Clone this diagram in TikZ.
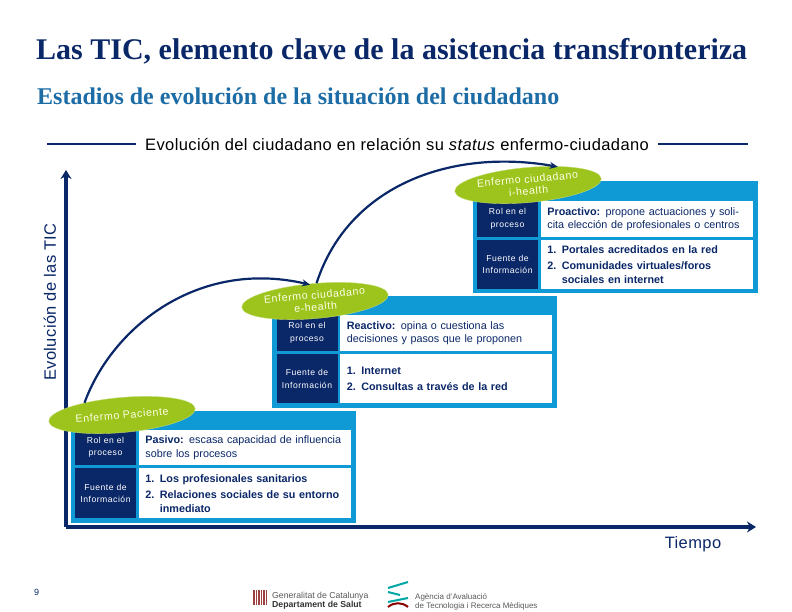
\documentclass[tikz,border=0pt]{standalone}
\usepackage{fontspec}
\setmainfont{Liberation Sans}
\newfontfamily\serifhead{Liberation Serif}
\newfontfamily\ovalfont[LetterSpace=6]{Liberation Sans}
\newfontfamily\rolfont[LetterSpace=6]{Liberation Sans}
\newfontfamily\labelfont[LetterSpace=2.4]{Liberation Sans}
\usetikzlibrary{arrows.meta,shapes.geometric,positioning,calc}
\definecolor{navyblue}{HTML}{0A2768}
\definecolor{panelblue}{HTML}{0F9AD6}
\definecolor{leafgreen}{HTML}{9CC41C}
\definecolor{subtitleblue}{HTML}{1C6CA6}

\begin{document}
\begin{tikzpicture}[
    x=1pt, y=-1pt,
    >=Stealth,
    panel/.style={
        fill=panelblue,
        minimum width=285pt,
        minimum height=112pt,
        inner sep=0pt
    },
    rolbox/.style={
        fill=navyblue,
        text=white,
        align=center,
        minimum width=61pt,
        inner sep=0pt,
        font=\fontsize{8.6}{12.5}\selectfont\rolfont
    },
    textbox/.style={
        fill=white,
        text=navyblue,
        align=left,
        anchor=west,
        text width=199pt,
        minimum width=212pt,
        inner sep=0pt,
        font=\fontsize{10.8}{13.5}\selectfont
    },
    oval/.style={
        ellipse,
        fill=leafgreen,
        draw=leafgreen!60!white,
        thin,
        rotate=5,
        minimum width=147pt,
        minimum height=35pt,
        inner sep=0pt,
        align=center,
        text=yellow!10!white,
        font=\fontsize{10.6}{12}\selectfont\ovalfont
    },
    axis/.style={line width=4pt, navyblue, arrows={-Stealth[length=9pt,width=11pt]}},
    evolarc/.style={line width=2.2pt, navyblue, shorten >=-3pt, arrows={-Stealth[length=8pt,width=7pt]}},
    rulebar/.style={line width=1.4pt, navyblue},
    axislabel/.style={text=navyblue, font=\fontsize{16.5}{19}\selectfont\labelfont}
]
\useasboundingbox (0,0) rectangle (792,612);

% heading
\node[anchor=base west, inner sep=0pt, text=navyblue, font=\fontsize{30}{34}\selectfont\serifhead\bfseries] (title) at (36,60) {Las TIC, elemento clave de la asistencia transfronteriza};
\node[anchor=base west, inner sep=0pt, text=subtitleblue, font=\fontsize{24}{27}\selectfont\serifhead\bfseries] (subtitle) at (37,105) {Estadios de evolución de la situación del ciudadano};
\node[inner sep=0pt, font=\fontsize{16.5}{19}\selectfont\labelfont] (header) at (397,145) {Evolución del ciudadano en relación su \textit{status} enfermo-ciudadano};
\coordinate (ruleL) at (47,144);
\coordinate (ruleR) at (748,144);
\draw[rulebar] (ruleL) -- (136,144);
\draw[rulebar] (658,144) -- (ruleR);

% axes
\coordinate (origin) at (66,527);
\coordinate (axistop) at (66,170);
\coordinate (axisend) at (756,527);
\draw[axis] (origin) -- (axistop);
\draw[axis] (origin) -- (axisend);
\node[axislabel, rotate=90] (ylabel) at (50,302) {Evolución de las TIC};
\node[axislabel] (xlabel) at (693,544) {Tiempo};

% stage 1
\node[panel] (panelA) at (213,467) {};
\node[rolbox, minimum height=35pt] (rolA) at (105.5,447.5) {Rol en el\\proceso};
\node[rolbox, minimum height=50pt, below=3pt of rolA] (fuenteA) {Fuente de\\Información};
\node[textbox, minimum height=35pt, right=2.5pt of rolA] (descA) {\textbf{Pasivo:} escasa capacidad de influencia\\sobre los procesos};
\node[textbox, minimum height=50pt, right=2.5pt of fuenteA] (listA) {\textbf{1. Los profesionales sanitarios\\[3pt]2. Relaciones sociales de su entorno\\\phantom{2. }inmediato}};
\node[oval] (paciente) at (122,415) {Enfermo Paciente};

% stage 2
\node[panel] (panelB) at (414.5,352) {};
\node[rolbox, minimum height=36pt] (rolB) at (307,333) {Rol en el\\proceso};
\node[rolbox, minimum height=49pt, below=3pt of rolB] (fuenteB) {Fuente de\\Información};
\node[textbox, minimum height=36pt, right=2.5pt of rolB] (descB) {\textbf{Reactivo:} opina o cuestiona las\\decisiones y pasos que le proponen};
\node[textbox, minimum height=49pt, right=2.5pt of fuenteB] (listB) {\textbf{1. Internet\\[3pt]2. Consultas a través de la red}};
\node[oval] (ehealth) at (315,301) {Enfermo ciudadano\\e-health};

% stage 3
\node[panel] (panelC) at (615,237) {};
\node[rolbox, minimum height=36pt] (rolC) at (507.5,219) {Rol en el\\proceso};
\node[rolbox, minimum height=49pt, below=2.5pt of rolC] (fuenteC) {Fuente de\\Información};
\node[textbox, minimum height=36pt, right=2.5pt of rolC] (descC) {\textbf{Proactivo:} propone actuaciones y soli-\\cita elección de profesionales o centros};
\node[textbox, minimum height=49pt, right=2.5pt of fuenteC] (listC) {\textbf{1. Portales acreditados en la red\\[3pt]2. Comunidades virtuales/foros\\\phantom{2. }sociales en internet}};
\node[oval] (ihealth) at (528,185) {Enfermo ciudadano\\i-health};

% evolution arcs
\draw[evolarc] (paciente.157) to[out=70,in=167,out looseness=.81,in looseness=1.14] (ehealth.110);
\draw[evolarc] (ehealth.80) to[out=72,in=170] (ihealth.30);

% footer
\node[anchor=base west, inner sep=0pt, font=\fontsize{9}{11}\selectfont, text=navyblue] (pagenum) at (34,595) {9};
\foreach \xpos in {254,256.5,259,261.5,264,266.5}
    \draw[line width=1.2pt, red!50!black!75] (\xpos,590) -- (\xpos,605);
\node[anchor=base west, inner sep=0pt, text=black!65, font=\fontsize{8.7}{10}\selectfont] (gencat) at (272,598) {Generalitat de Catalunya};
\node[anchor=base west, inner sep=0pt, text=black!80, font=\fontsize{8.7}{10}\selectfont\bfseries] (salut) at (272,607) {Departament de Salut};
\draw[line width=2pt, teal!70!cyan] (388,588) -- (408,582);
\draw[line width=2pt, teal!70!cyan] (388,592) -- (400,595);
\draw[line width=2pt, teal!70!cyan] (388,602) -- (408,598);
\draw[line width=2pt, red!55!black] (388,607) to[out=40,in=140] (408,607);
\node[anchor=base west, inner sep=0pt, text=black!65, font=\fontsize{8}{10}\selectfont] (agencia) at (415,599) {Agència d'Avaluació};
\node[anchor=base west, inner sep=0pt, text=black!65, font=\fontsize{8}{10}\selectfont] (recerca) at (415,608) {de Tecnologia i Recerca Mèdiques};
\end{tikzpicture}
\end{document}
